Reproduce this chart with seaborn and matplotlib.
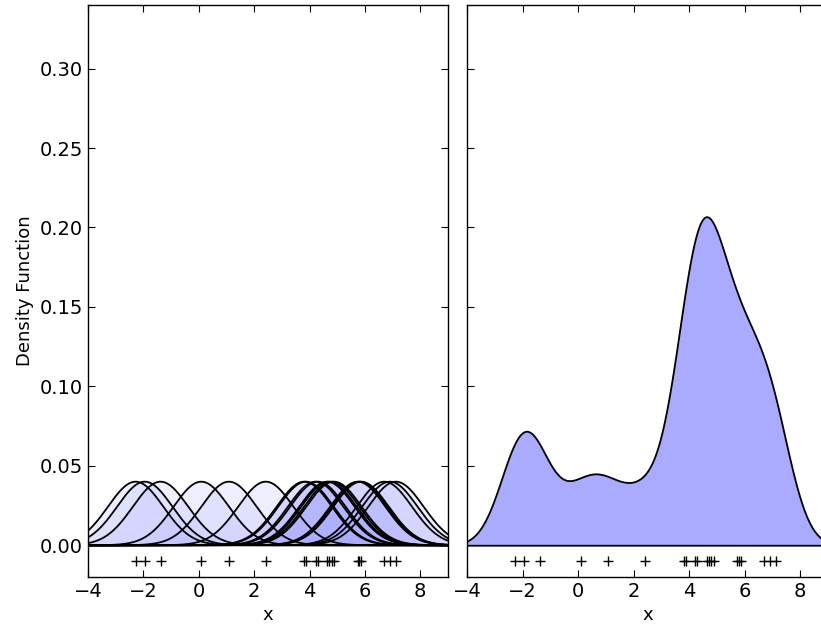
import numpy as np
import matplotlib
matplotlib.use("Agg")
import matplotlib.pyplot as plt
import seaborn as sns

# sample points
points = [-2.28, -1.95, -1.38, 0.09, 1.09, 2.42,
          3.81, 3.87, 4.22, 4.30, 4.63, 4.70, 4.80, 4.88,
          5.74, 5.80, 5.86, 6.70, 6.90, 7.12]

# kernel widths / heights as seen in the picture
kernel_width = 1.0
kernel_peak = 0.04
kde_width = 0.75

xticks = [-4, -2, 0, 2, 4, 6, 8]
yticks = [0.00, 0.05, 0.10, 0.15, 0.20, 0.25, 0.30]

sns.set_style("ticks")
plt.rcParams.update({
    "font.family": ["DejaVu Sans"],
    "font.size": 13,
    "xtick.labelsize": 14,
    "ytick.labelsize": 14,
    "xtick.direction": "in",
    "ytick.direction": "in",
    "xtick.top": True,
    "ytick.right": True,
    "xtick.major.size": 5,
    "ytick.major.size": 5,
    "axes.edgecolor": "k",
    "axes.linewidth": 1.0,
    "axes.labelcolor": "k",
    "text.color": "k",
    "xtick.color": "k",
    "ytick.color": "k",
})

x = np.array(points)
grid = np.linspace(-4, 9, 1000)

fig = plt.figure(figsize=(8.21, 6.29), dpi=100)
ax1 = fig.add_axes([88 / 821, 52 / 629, 360 / 821, 572 / 629])
ax2 = fig.add_axes([467 / 821, 52 / 629, 361 / 821, 572 / 629])

# left: one kernel per point
for xi in x:
    k = kernel_peak * np.exp(-0.5 * ((grid - xi) / kernel_width) ** 2)
    ax1.fill_between(grid, 0, k, facecolor="#AAAAFF", alpha=0.2, lw=0)
    ax1.plot(grid, k, "-k", lw=1.3)
ax1.axhline(0, color="k", lw=1.3)
ax1.plot(x, np.full_like(x, -0.01), "+k", ms=7, mew=1)

# right: the summed estimate
sns.kdeplot(x=x, bw_method=kde_width / np.std(x, ddof=1), fill=True,
            facecolor="#AAAAFF", edgecolor="k", alpha=1, lw=1.3,
            gridsize=1000, cut=6, ax=ax2)
ax2.plot(x, np.full_like(x, -0.01), "+k", ms=7, mew=1)

for ax in (ax1, ax2):
    ax.set_xlim(-4, 9)
    ax.set_ylim(-0.02, 0.34)
    ax.set_xticks(xticks)
    ax.set_yticks(yticks)
    ax.set_xlabel("x")

ax1.set_ylabel("Density Function")
ax2.set_ylabel("")
ax2.set_yticklabels([])

fig.savefig("out.png", dpi=100)
